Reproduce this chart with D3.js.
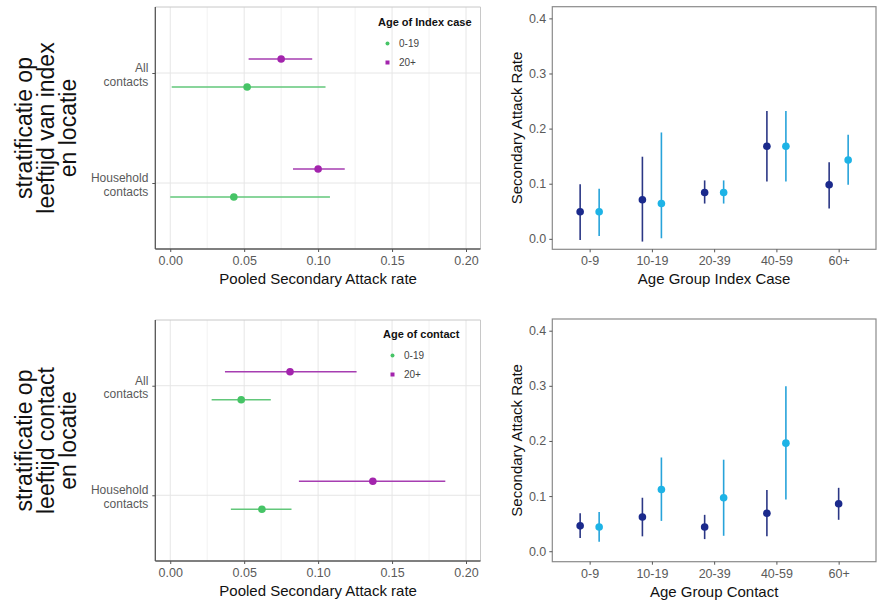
<!DOCTYPE html>
<html>
<head>
<meta charset="utf-8">
<script src="https://cdn.jsdelivr.net/npm/d3@7"></script>
<style>
  html, body { margin: 0; padding: 0; background: #fff; }
  svg { display: block; }
</style>
</head>
<body>
<svg id="chart" width="877" height="604"></svg>
<script>
// ---------- DATA ----------
const locations = ["All contacts", "Household contacts"];
const pooledGroups = ["0-19", "20+"];

// Top-left: stratified by age of index case
const indexEst_0_19 = [0.052, 0.043];
const indexLo_0_19  = [0.001, 0.000];
const indexHi_0_19  = [0.105, 0.108];
const indexEst_20   = [0.075, 0.100];
const indexLo_20    = [0.053, 0.083];
const indexHi_20    = [0.096, 0.118];

// Bottom-left: stratified by age of contact
const contactEst_0_19 = [0.048, 0.062];
const contactLo_0_19  = [0.028, 0.041];
const contactHi_0_19  = [0.068, 0.082];
const contactEst_20   = [0.081, 0.137];
const contactLo_20    = [0.037, 0.087];
const contactHi_20    = [0.126, 0.186];

const pooledTicks = [0.00, 0.05, 0.10, 0.15, 0.20];

// Right panels
const ageGroups = ["0-9", "10-19", "20-39", "40-59", "60+"];

const idxDarkEst  = [0.049, 0.071, 0.084, 0.168, 0.098];
const idxDarkLo   = [-0.002, -0.005, 0.064, 0.104, 0.055];
const idxDarkHi   = [0.099, 0.149, 0.106, 0.232, 0.139];
const idxLightEst = [0.049, 0.064, 0.084, 0.168, 0.143];
const idxLightLo  = [0.005, 0.001, 0.064, 0.104, 0.098];
const idxLightHi  = [0.091, 0.193, 0.106, 0.232, 0.189];

const conDarkEst  = [0.046, 0.062, 0.044, 0.069, 0.086];
const conDarkLo   = [0.024, 0.027, 0.022, 0.027, 0.057];
const conDarkHi   = [0.069, 0.097, 0.066, 0.111, 0.115];
const conLightEst = [0.044, 0.112, 0.097, 0.196, null];
const conLightLo  = [0.017, 0.055, 0.028, 0.094, null];
const conLightHi  = [0.071, 0.170, 0.166, 0.299, null];

const sarTicks = [0.0, 0.1, 0.2, 0.3, 0.4];

// ---------- STYLE ----------
const FONT = "'Liberation Sans', Arial, Helvetica, sans-serif";
const groupColor = { "0-19": "#46c466", "20+": "#a324ad" };
const groupLine  = { "0-19": "#62c77a", "20+": "#a63db1" };
const darkPt = "#1b2a8c", darkLn = "#2b3785";
const lightPt = "#1db3e6", lightLn = "#27a3da";

const svg = d3.select("#chart");
svg.append("rect").attr("width", 877).attr("height", 604).attr("fill", "#fff");

function buildRows(est, lo, hi, group) {
  return locations.map((loc, i) => ({ loc, group, est: est[i], lo: lo[i], hi: hi[i] }));
}

function drawLeft(opt) {
  const { top, bottom, left, right, rows, legendTitle, titleLines, legendX, legendY } = opt;
  const g = svg.append("g");
  const x = d3.scaleLinear().domain([-0.0101, 0.2098]).range([left, right]);
  const y = d3.scalePoint().domain(locations).range([top, bottom]).padding(0.6);
  const dodge = d3.scalePoint().domain(["20+", "0-19"]).range([-14, 14]);

  // grid
  const minor = [0.025, 0.075, 0.125, 0.175];
  g.selectAll(".minor").data(minor).join("line")
    .attr("x1", d => x(d)).attr("x2", d => x(d)).attr("y1", top).attr("y2", bottom)
    .attr("stroke", "#f2f2f2").attr("stroke-width", 1);
  g.selectAll(".major").data(pooledTicks).join("line")
    .attr("x1", d => x(d)).attr("x2", d => x(d)).attr("y1", top).attr("y2", bottom)
    .attr("stroke", "#e6e6e6").attr("stroke-width", 1);
  g.selectAll(".hgrid").data(locations).join("line")
    .attr("x1", left).attr("x2", right).attr("y1", d => y(d)).attr("y2", d => y(d))
    .attr("stroke", "#e6e6e6").attr("stroke-width", 1);

  // frame: top/right light, left/bottom dark
  g.append("line").attr("x1", left).attr("x2", right).attr("y1", top).attr("y2", top)
    .attr("stroke", "#c8c8c8");
  g.append("line").attr("x1", right).attr("x2", right).attr("y1", top).attr("y2", bottom)
    .attr("stroke", "#c8c8c8");

  // x axis
  const xAxis = d3.axisBottom(x).tickValues(pooledTicks).tickFormat(d3.format(".2f"))
    .tickSize(3).tickPadding(4);
  const xa = g.append("g").attr("transform", `translate(0,${bottom})`).call(xAxis);
  xa.select(".domain").attr("stroke", "#555").attr("stroke-width", 1.3)
    .attr("d", `M${left},0H${right}`);
  xa.selectAll(".tick line").attr("stroke", "#555");
  xa.selectAll(".tick text").attr("fill", "#5a5a5a").attr("font-size", 12.5).attr("font-family", FONT);

  // y axis
  const yAxis = d3.axisLeft(y).tickSize(3).tickFormat("");
  const ya = g.append("g").attr("transform", `translate(${left},0)`).call(yAxis);
  ya.select(".domain").attr("stroke", "#555").attr("stroke-width", 1.3)
    .attr("d", `M0,${top}V${bottom}`);
  ya.selectAll(".tick line").attr("stroke", "#555");
  ya.selectAll(".tick").each(function (d) {
    const words = d.split(" ");
    const t = d3.select(this).append("text")
      .attr("text-anchor", "end").attr("fill", "#5a5a5a")
      .attr("font-size", 12).attr("font-family", FONT);
    t.append("tspan").attr("x", -7).attr("y", -1.5).text(words[0]);
    t.append("tspan").attr("x", -7).attr("y", 12).text(words[1]);
  });

  // axis title
  g.append("text").attr("x", (x(0) + x(0.2)) / 2).attr("y", bottom + 35)
    .attr("text-anchor", "middle").attr("font-size", 15).attr("font-family", FONT)
    .attr("fill", "#111").text("Pooled Secondary Attack rate");

  // error bars & points
  g.selectAll(".err").data(rows).join("line")
    .attr("x1", d => x(d.lo)).attr("x2", d => x(d.hi))
    .attr("y1", d => y(d.loc) + dodge(d.group)).attr("y2", d => y(d.loc) + dodge(d.group))
    .attr("stroke", d => groupLine[d.group]).attr("stroke-width", 1.4);
  g.selectAll(".pt").data(rows).join("circle")
    .attr("cx", d => x(d.est)).attr("cy", d => y(d.loc) + dodge(d.group))
    .attr("r", 3.8).attr("fill", d => groupColor[d.group]);

  // legend
  const lg = g.append("g").attr("transform", `translate(${legendX},${legendY})`);
  lg.append("text").attr("x", 0).attr("y", 0).attr("font-size", 11).attr("font-weight", "bold")
    .attr("font-family", FONT).attr("fill", "#111").text(legendTitle);
  pooledGroups.forEach((grp, i) => {
    const cy = 17.5 + i * 19;
    if (grp === "0-19") {
      lg.append("circle").attr("cx", 9.5).attr("cy", cy).attr("r", 2).attr("fill", groupColor[grp]);
    } else {
      lg.append("rect").attr("x", 7.5).attr("y", cy - 2).attr("width", 4).attr("height", 4)
        .attr("fill", groupColor[grp]);
    }
    lg.append("text").attr("x", 21).attr("y", cy + 3.5).attr("font-size", 10)
      .attr("font-family", FONT).attr("fill", "#444").text(grp);
  });

  // big rotated title
  const cy = (top + bottom) / 2;
  const tt = g.append("text").attr("transform", `translate(0,${cy}) rotate(-90)`)
    .attr("text-anchor", "middle").attr("font-size", 23)
    .attr("font-family", FONT).attr("fill", "#111");
  titleLines.forEach((ln, i) => {
    tt.append("tspan").attr("x", 0).attr("y", 32 + i * 22).text(ln);
  });
}

function drawRight(opt) {
  const { top, bottom, left, right, dEst, dLo, dHi, lEst, lLo, lHi, xTitle } = opt;
  const g = svg.append("g");
  const x = d3.scalePoint().domain(ageGroups).range([left, right]).padding(0.6);
  const y = d3.scaleLinear().domain([-0.0190, 0.4212]).range([bottom, top]);

  const rows = [];
  ageGroups.forEach((a, i) => {
    const hasLight = lEst[i] !== null;
    rows.push({ a, est: dEst[i], lo: dLo[i], hi: dHi[i], off: hasLight ? -9.5 : 0, pt: darkPt, ln: darkLn });
    if (hasLight) rows.push({ a, est: lEst[i], lo: lLo[i], hi: lHi[i], off: 9.5, pt: lightPt, ln: lightLn });
  });

  // frame
  g.append("rect").attr("x", left).attr("y", top).attr("width", right - left).attr("height", bottom - top)
    .attr("fill", "none").attr("stroke", "#8a8a8a").attr("stroke-width", 1.2);

  const xAxis = d3.axisBottom(x).tickSize(3).tickPadding(4);
  const xa = g.append("g").attr("transform", `translate(0,${bottom})`).call(xAxis);
  xa.select(".domain").remove();
  xa.selectAll(".tick line").attr("stroke", "#555");
  xa.selectAll(".tick text").attr("fill", "#5a5a5a").attr("font-size", 12.5).attr("font-family", FONT);

  const yAxis = d3.axisLeft(y).tickValues(sarTicks).tickFormat(d3.format(".1f")).tickSize(3).tickPadding(3);
  const ya = g.append("g").attr("transform", `translate(${left},0)`).call(yAxis);
  ya.select(".domain").remove();
  ya.selectAll(".tick line").attr("stroke", "#555");
  ya.selectAll(".tick text").attr("fill", "#5a5a5a").attr("font-size", 12.5).attr("font-family", FONT);

  g.append("text").attr("x", (left + right) / 2).attr("y", bottom + 35)
    .attr("text-anchor", "middle").attr("font-size", 15).attr("font-family", FONT)
    .attr("fill", "#111").text(xTitle);
  g.append("text").attr("transform", `translate(${left - 30},${(top + bottom) / 2}) rotate(-90)`)
    .attr("text-anchor", "middle").attr("font-size", 15).attr("font-family", FONT)
    .attr("fill", "#111").text("Secondary Attack Rate");

  g.selectAll(".err").data(rows).join("line")
    .attr("x1", d => x(d.a) + d.off).attr("x2", d => x(d.a) + d.off)
    .attr("y1", d => y(d.lo)).attr("y2", d => y(d.hi))
    .attr("stroke", d => d.ln).attr("stroke-width", 1.6);
  g.selectAll(".pt").data(rows).join("circle")
    .attr("cx", d => x(d.a) + d.off).attr("cy", d => y(d.est))
    .attr("r", 3.8).attr("fill", d => d.pt);
}

drawLeft({
  top: 7, bottom: 249, left: 155.3, right: 480.5,
  rows: [...buildRows(indexEst_0_19, indexLo_0_19, indexHi_0_19, "0-19"),
         ...buildRows(indexEst_20, indexLo_20, indexHi_20, "20+")],
  legendTitle: "Age of Index case", legendX: 378, legendY: 26,
  titleLines: ["stratificatie op", "leeftijd van index", "en locatie"]
});
drawLeft({
  top: 320, bottom: 561, left: 155.3, right: 480.5,
  rows: [...buildRows(contactEst_0_19, contactLo_0_19, contactHi_0_19, "0-19"),
         ...buildRows(contactEst_20, contactLo_20, contactHi_20, "20+")],
  legendTitle: "Age of contact", legendX: 383, legendY: 338,
  titleLines: ["stratificatie op", "leeftijd contact", "en locatie"]
});
drawRight({
  top: 6.7, bottom: 249.3, left: 552.3, right: 876,
  dEst: idxDarkEst, dLo: idxDarkLo, dHi: idxDarkHi,
  lEst: idxLightEst, lLo: idxLightLo, lHi: idxLightHi,
  xTitle: "Age Group Index Case"
});
drawRight({
  top: 319, bottom: 561.7, left: 552.3, right: 876,
  dEst: conDarkEst, dLo: conDarkLo, dHi: conDarkHi,
  lEst: conLightEst, lLo: conLightLo, lHi: conLightHi,
  xTitle: "Age Group Contact"
});
</script>
</body>
</html>
